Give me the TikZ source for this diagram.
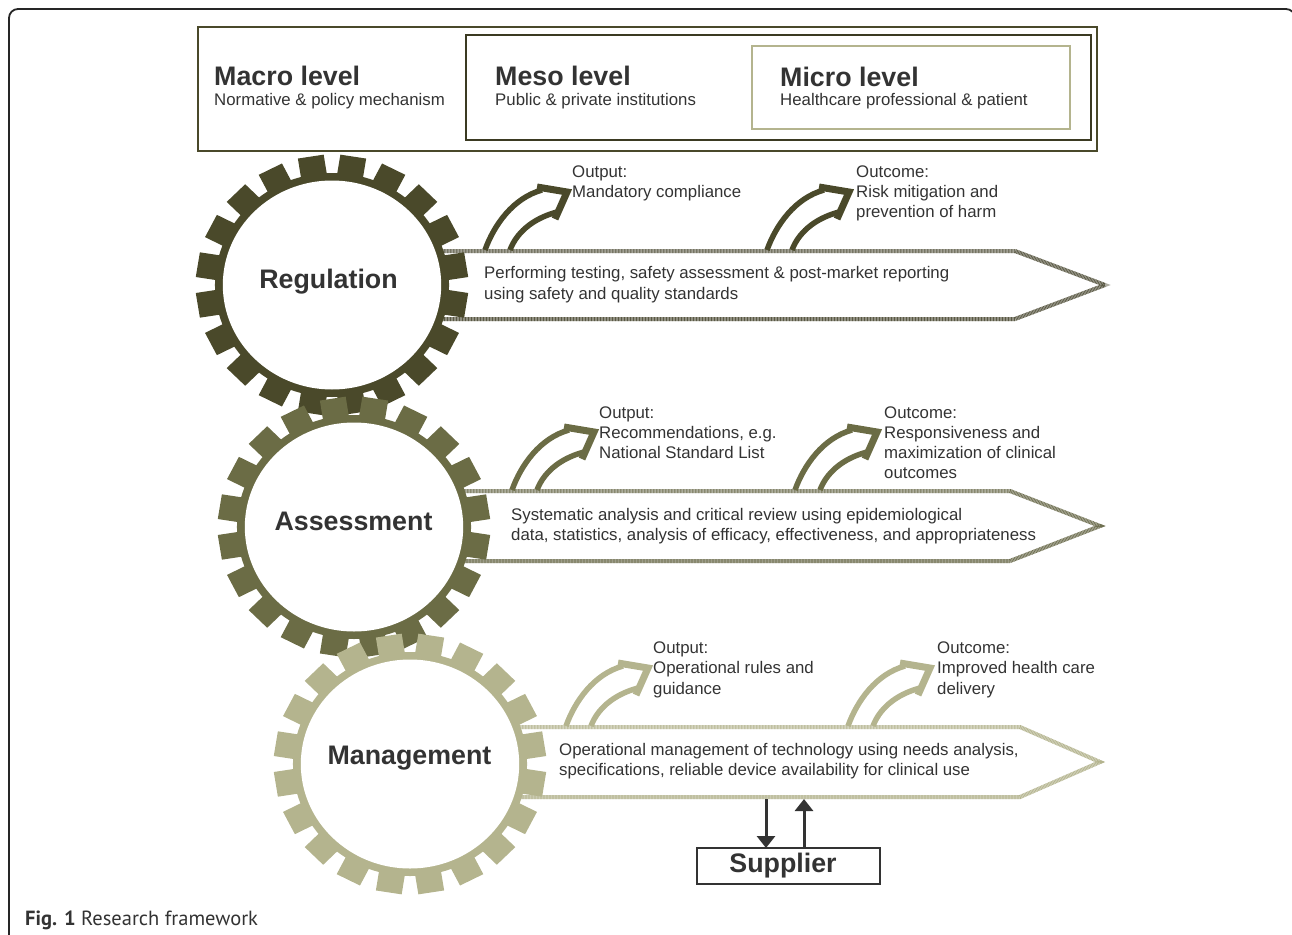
\documentclass[tikz,border=0pt]{standalone}
\usepackage{fontspec}
\setmainfont{Liberation Sans}
\newfontfamily\capfont{PT Sans}
\usetikzlibrary{arrows.meta}
\definecolor{regC}{HTML}{4A492A}
\definecolor{assC}{HTML}{6B6C45}
\definecolor{mgC}{HTML}{B4B48E}
\definecolor{txt}{HTML}{333333}
\newcommand\mygear[4]{%
  \begin{scope}[shift={(#1,#2)}, xscale=1.045]
    \fill[#3] (0,0) circle (112);
    \foreach \a in {9,27,...,351} \fill[#3, rotate=\a] (108,-12.5) rectangle (130,12.5);
    \fill[white] (0,0) circle (104.5);
  \end{scope}}
\newcommand\curvarrow[3]{%
  \begin{scope}[shift={(#1,#2)}, color=#3]
    \draw[line width=5.5pt] (0,0) .. controls (9,-25) and (28,-52) .. (57,-60);
    \draw[line width=5.5pt] (25,0) .. controls (31,-16) and (46,-31) .. (72,-38);
    \draw[line width=7pt, line join=miter] (52,-63) -- (82,-58) -- (70,-31);
  \end{scope}}
\newcommand\tline[4]{\node[body] (#1) at (#2,#3) {#4};}
\begin{document}
\begin{tikzpicture}[x=1pt, y=-1pt,
  body/.style={font=\fontsize{16.8}{19.5}\selectfont, anchor=base west, text=txt, inner sep=0pt},
  big/.style={font=\fontsize{26.8}{30}\selectfont\bfseries, anchor=base, text=txt, inner sep=0pt},
  bigl/.style={font=\fontsize{26.8}{30}\selectfont\bfseries, anchor=base west, text=txt, inner sep=0pt},
  hatch/.style={line width=4pt, draw=#1!50!white, line join=miter, fill=white,
     postaction={draw=#1, line width=4pt, dash pattern=on 0.7pt off 0.8pt}},
  box/.style={anchor=north west, inner sep=0pt, outer sep=0pt}]
\useasboundingbox (0,0) rectangle (1292,934);
% outer frame
\draw[line width=1.8pt, draw=black!85, rounded corners=9pt] (9,990) -- (9,9) -- (1295,9) -- (1295,990);
% level boxes
\node[box, draw=regC, line width=2pt, minimum width=899pt, minimum height=124pt] (macro) at (198,27) {};
\node[box, draw=regC!80!black, line width=1.5pt, minimum width=625pt, minimum height=105pt] (meso) at (466,35) {};
\node[box, draw=mgC, line width=2pt, minimum width=318pt, minimum height=83pt] (micro) at (752,46) {};
\node[bigl] (macroT) at (214,85) {Macro level};
\tline{macroS}{214}{105}{Normative \& policy mechanism}
\node[bigl] (mesoT) at (495,85) {Meso level};
\tline{mesoS}{495}{105}{Public \& private institutions}
\node[bigl] (microT) at (780,86) {Micro level};
\tline{microS}{780}{105}{Healthcare professional \& patient}
% pentagons
\path[hatch=regC!70!gray] (420,251) -- (1015,251) -- (1105,285) -- (1015,319) -- (420,319);
\path[hatch=assC!80!gray] (440,491) -- (1010,491) -- (1100,526) -- (1010,561) -- (440,561);
\path[hatch=mgC] (495,727) -- (1020,727) -- (1100,762) -- (1020,797) -- (495,797);
% gears
\mygear{332}{285}{regC}{reg}
\mygear{354}{527}{assC}{ass}
\mygear{410}{764}{mgC}{mg}
\node[big] (regT) at (328.5,288) {Regulation};
\node[big] (assT) at (353.5,530) {Assessment};
\node[big] (mgT) at (409.5,764) {Management};
% pentagon texts
\tline{regP1}{484}{278}{Performing testing, safety assessment \& post-market reporting}
\tline{regP2}{484}{299}{using safety and quality standards}
\tline{assP1}{511}{520}{Systematic analysis and critical review using epidemiological}
\tline{assP2}{511}{540}{data, statistics, analysis of efficacy, effectiveness, and appropriateness}
\tline{mgP1}{559}{755}{Operational management of technology using needs analysis,}
\tline{mgP2}{559}{775}{specifications, reliable device availability for clinical use}
% curved arrows
\curvarrow{485}{250}{regC}
\curvarrow{767}{250}{regC}
\curvarrow{512}{490}{assC}
\curvarrow{795}{490}{assC}
\curvarrow{566}{726}{mgC}
\curvarrow{848}{726}{mgC}
% output/outcome labels
\tline{regO1}{572}{177}{Output:}
\tline{regO2}{572}{197}{Mandatory compliance}
\tline{regC1}{856}{177}{Outcome:}
\tline{regC2}{856}{197}{Risk mitigation and}
\tline{regC3}{856}{217}{prevention of harm}
\tline{assO1}{599}{418}{Output:}
\tline{assO2}{599}{438}{Recommendations, e.g.}
\tline{assO3}{599}{458}{National Standard List}
\tline{assC1}{884}{418}{Outcome:}
\tline{assC2}{884}{438}{Responsiveness and}
\tline{assC3}{884}{458}{maximization of clinical}
\tline{assC4}{884}{478}{outcomes}
\tline{mgO1}{653}{653}{Output:}
\tline{mgO2}{653}{673}{Operational rules and}
\tline{mgO3}{653}{694}{guidance}
\tline{mgC1}{937}{653}{Outcome:}
\tline{mgC2}{937}{673}{Improved health care}
\tline{mgC3}{937}{694}{delivery}
% supplier
\node[box, draw=txt, line width=1.5pt, fill=white, minimum width=183pt, minimum height=36pt] (sup) at (697,848) {};
\node[big] (supT) at (783,872) {Supplier};
\coordinate (pd) at (766,799);
\coordinate (pu) at (804,799);
\draw[line width=3pt, draw=txt, -{Triangle[width=18pt, length=12pt]}] (pd) -- (pd |- sup.north);
\draw[line width=3pt, draw=txt, -{Triangle[width=18pt, length=12pt]}] (pu |- sup.north) -- (pu);
% caption
\node[anchor=base west, inner sep=0pt, text=txt, font=\capfont\fontsize{20.5}{24}\selectfont] (cap) at (25,925) {\textbf{Fig. 1} Research framework};
\end{tikzpicture}
\end{document}
